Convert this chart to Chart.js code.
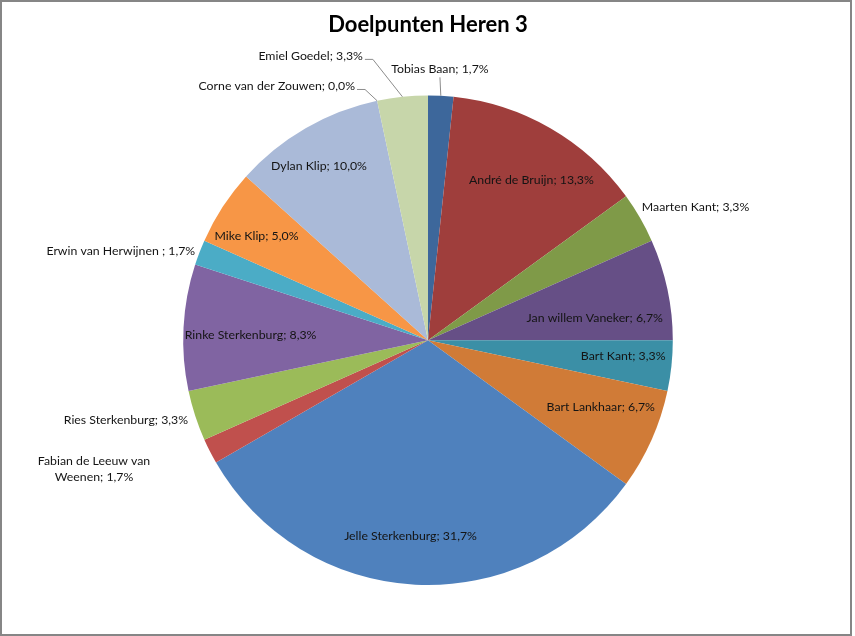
<!DOCTYPE html>
<html>
<head>
<meta charset="utf-8">
<title>Doelpunten Heren 3</title>
<script src="https://cdn.jsdelivr.net/npm/chart.js@4.4.1/dist/chart.umd.min.js"></script>
<style>
    html, body { margin: 0; padding: 0; background: #fff; }
    #wrap { position: relative; width: 855px; height: 636px; }
</style>
</head>
<body>
<div id="wrap"><canvas id="goalsPie" width="855" height="636"></canvas></div>
<script>
const players = [
    'Tobias Baan', 'André de Bruijn', 'Maarten Kant', 'Jan willem Vaneker', 'Bart Kant',
    'Bart Lankhaar', 'Jelle Sterkenburg', 'Fabian de Leeuw van Weenen', 'Ries Sterkenburg',
    'Rinke Sterkenburg', 'Erwin van Herwijnen ', 'Mike Klip', 'Dylan Klip',
    'Corne van der Zouwen', 'Emiel Goedel'
];
const goals = [1, 8, 2, 4, 2, 4, 19, 1, 2, 5, 1, 3, 6, 0, 2];
const sliceColors = [
    '#3d679b', '#9f3e3c', '#7f9a48', '#664f86', '#3b8fa6',
    '#d07b37', '#4f81bd', '#c0504d', '#9bbb59',
    '#8064a2', '#4bacc6', '#f79646', '#aabad8',
    '#d9a9a8', '#c7d6aa'
];

// where each label sits: radius factor and angle shift (degrees) from the slice middle
const labelLayout = [
    { mode: 'lead', r: 1.075, shift: -0.4, align: 'center' },
    { mode: 'in', r: 0.778, shift: 2.9 },
    { mode: 'out', r: 1.029, shift: -1.9, align: 'left' },
    { mode: 'in', r: 0.687, shift: 4.5 },
    { mode: 'in', r: 0.80, shift: -1.3 },
    { mode: 'in', r: 0.757, shift: -2.8 },
    { mode: 'in', r: 0.803, shift: 2.1 },
    { mode: 'out', r: 1.251, shift: 2.1, align: 'block', wrap: 125 },
    { mode: 'out', r: 1.033, shift: -0.4, align: 'right' },
    { mode: 'in', r: 0.725, shift: -1.4 },
    { mode: 'out', r: 1.018, shift: -0.1, align: 'right' },
    { mode: 'in', r: 0.819, shift: -1.8 },
    { mode: 'in', r: 0.838, shift: -2.1 },
    { mode: 'lead', r: 1.056, shift: -2.1, align: 'right' },
    { mode: 'lead', r: 1.169, shift: -5.1, align: 'right' }
];

const labelFont = '12.3px Lato';
const textColor = '#141414';
const leaderColor = '#8c8c8c';

const totalGoals = goals.reduce((a, b) => a + b, 0);
const pctText = (v) => (v / totalGoals * 100).toFixed(1).replace('.', ',') + '%';

function wrapText(ctx, text, maxWidth) {
    const words = text.split(' ');
    const lines = [];
    let line = '';
    words.forEach((w) => {
        const test = line ? line + ' ' + w : w;
        if (line && ctx.measureText(test).width > maxWidth) {
            lines.push(line);
            line = w;
        } else {
            line = test;
        }
    });
    if (line) lines.push(line);
    return lines;
}

// Frame around the chart, like the spreadsheet chart border
const framePlugin = {
    id: 'frame',
    beforeDraw(chart) {
        const ctx = chart.ctx;
        ctx.save();
        ctx.fillStyle = '#ffffff';
        ctx.fillRect(0, 0, chart.width, chart.height);
        ctx.strokeStyle = '#868686';
        ctx.lineWidth = 2;
        ctx.strokeRect(1, 1, 850, chart.height - 2);
        ctx.restore();
    }
};

// Data labels "name; pct" with leader lines for the small top slices
const sliceLabels = {
    id: 'sliceLabels',
    afterDatasetsDraw(chart) {
        const ctx = chart.ctx;
        const arcs = chart.getDatasetMeta(0).data;
        ctx.save();
        ctx.font = labelFont;
        ctx.fillStyle = textColor;
        ctx.textBaseline = 'middle';
        arcs.forEach((arc, i) => {
            const p = arc.getProps(['x', 'y', 'startAngle', 'endAngle', 'outerRadius'], true);
            const lay = labelLayout[i];
            const mid = (p.startAngle + p.endAngle) / 2;
            const ang = mid + lay.shift * Math.PI / 180;
            const ax = p.x + Math.cos(ang) * p.outerRadius * lay.r;
            const ay = p.y + Math.sin(ang) * p.outerRadius * lay.r;
            const text = players[i] + '; ' + pctText(goals[i]);

            if (lay.mode === 'in') {
                ctx.textAlign = 'center';
                ctx.fillText(text, ax, ay);
            } else if (lay.mode === 'out') {
                if (lay.align === 'block') {
                    const lines = wrapText(ctx, text, lay.wrap);
                    const w = Math.max(...lines.map((l) => ctx.measureText(l).width));
                    ctx.textAlign = 'center';
                    lines.forEach((l, k) => {
                        ctx.fillText(l, ax - w / 2, ay + (k - (lines.length - 1) / 2) * 16);
                    });
                } else {
                    ctx.textAlign = lay.align;
                    ctx.fillText(text, ax, ay);
                }
            } else {
                const ex = p.x + Math.cos(mid) * p.outerRadius;
                const ey = p.y + Math.sin(mid) * p.outerRadius;
                ctx.strokeStyle = leaderColor;
                ctx.lineWidth = 1;
                ctx.beginPath();
                ctx.moveTo(ex, ey);
                ctx.lineTo(ax, ay);
                if (lay.align === 'right') {
                    ctx.lineTo(ax - 8, ay);
                }
                ctx.stroke();
                if (lay.align === 'right') {
                    ctx.textAlign = 'right';
                    ctx.fillText(text, ax - 10, ay - 3);
                } else {
                    ctx.textAlign = 'center';
                    ctx.fillText(text, ax, ay - 8);
                }
            }
        });
        ctx.restore();
    }
};

const goalsCtx = document.getElementById('goalsPie').getContext('2d');
const goalsPie = new Chart(goalsCtx, {
    type: 'pie',
    data: {
        labels: players,
        datasets: [{
            data: goals,
            backgroundColor: sliceColors,
            borderWidth: 0,
            hoverOffset: 0
        }]
    },
    options: {
        responsive: false,
        animation: false,
        events: [],
        layout: {
            padding: { left: 183, right: 182, top: 0, bottom: 51 }
        },
        plugins: {
            legend: { display: false },
            tooltip: { enabled: false },
            title: {
                display: true,
                text: 'Doelpunten Heren 3',
                color: '#000000',
                font: { family: 'Lato', size: 22, weight: 'bold' },
                padding: { top: 12, bottom: 57 }
            }
        }
    },
    plugins: [framePlugin, sliceLabels]
});
</script>
</body>
</html>
